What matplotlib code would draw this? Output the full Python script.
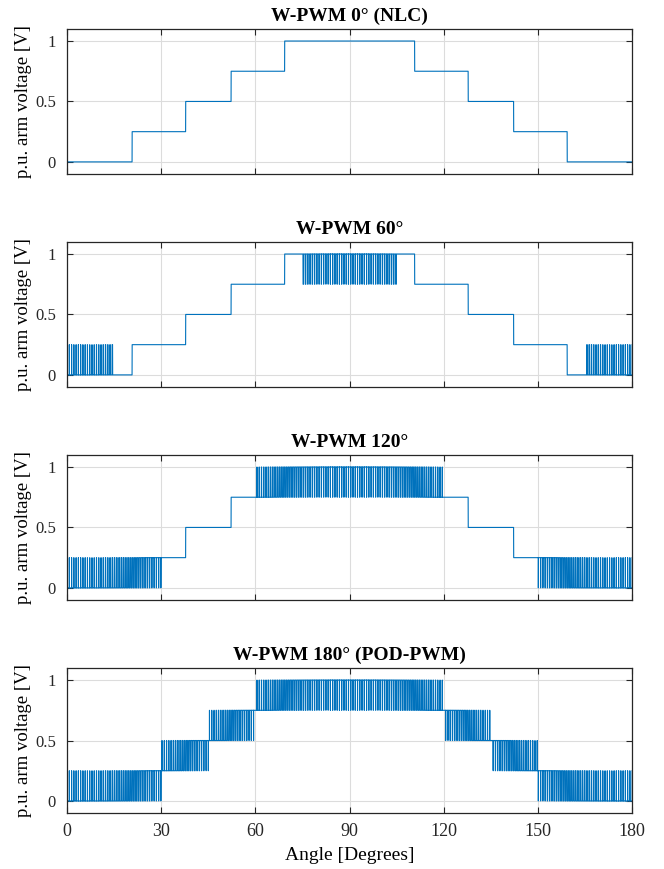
import numpy as np
from matplotlib import pyplot as plt

# Titles of the four panels and their PWM windows (degrees)
titles = ["W-PWM 0\u00b0 (NLC)", "W-PWM 60\u00b0", "W-PWM 120\u00b0", "W-PWM 180\u00b0 (POD-PWM)"]
pwm_windows = [
    [],
    [(0, 15), (75, 105), (165, 180)],
    [(0, 30), (60, 120), (150, 180)],
    [(0, 180)],
]
n_levels = 4            # number of submodule voltage steps
carrier_cycles = 250    # carrier periods over 0..180 deg
x_ticks = [0, 30, 60, 90, 120, 150, 180]
y_ticks = [0, 0.5, 1]
y_ticklabels = ["0", "0.5", "1"]

LINE_BLUE = "#0072BD"

plt.rcParams['font.family'] = ['Liberation Serif', 'DejaVu Serif']


def arm_voltage(theta, windows):
    ref = np.sin(np.deg2rad(theta)) ** 2 * n_levels
    out = np.round(ref)
    low = np.minimum(np.floor(ref), n_levels - 1)
    duty = ref - low
    phase = (theta / 180.0 * carrier_cycles) % 1.0
    carrier = 1 - np.abs(2 * phase - 1)
    pwm = low + (duty > carrier)
    for a, b in windows:
        mask = (theta >= a) & (theta <= b)
        out[mask] = pwm[mask]
    return out / n_levels


def main() -> None:
    theta = np.linspace(0, 180, 400001)
    fig = plt.figure(figsize=(6.64, 8.69), dpi=100)
    bottoms = [0.7998, 0.5547, 0.3096, 0.0644]
    for i, (title, windows) in enumerate(zip(titles, pwm_windows)):
        ax = fig.add_axes([0.101, bottoms[i], 0.851, 0.1669])
        ax.plot(theta, arm_voltage(theta, windows), color=LINE_BLUE, lw=0.8)
        ax.set_xlim(0, 180)
        ax.set_ylim(-0.1, 1.1)
        ax.set_xticks(x_ticks)
        ax.set_yticks(y_ticks)
        ax.set_yticklabels(y_ticklabels)
        ax.grid(True, color="#dcdcdc", lw=0.8)
        ax.set_axisbelow(True)
        ax.tick_params(direction="in", top=True, right=True, length=4,
                       width=0.8, labelsize=13, colors="#262626")
        ax.tick_params(axis="y", pad=8, labelsize=12)
        ax.tick_params(axis="x", pad=7)
        for sp in ax.spines.values():
            sp.set_color("#262626")
            sp.set_linewidth(0.9)
        ax.set_title(title, fontsize=14, fontweight="bold", pad=6)
        ax.set_ylabel("p.u. arm voltage [V]", fontsize=13.5)
        ax.yaxis.set_label_coords(-0.062, 0.5)
        if i < 3:
            ax.set_xticklabels([])
        else:
            ax.set_xlabel("Angle [Degrees]", fontsize=14, labelpad=5)
    fig.savefig("out.png", dpi=100)


if __name__ == "__main__":
    main()
